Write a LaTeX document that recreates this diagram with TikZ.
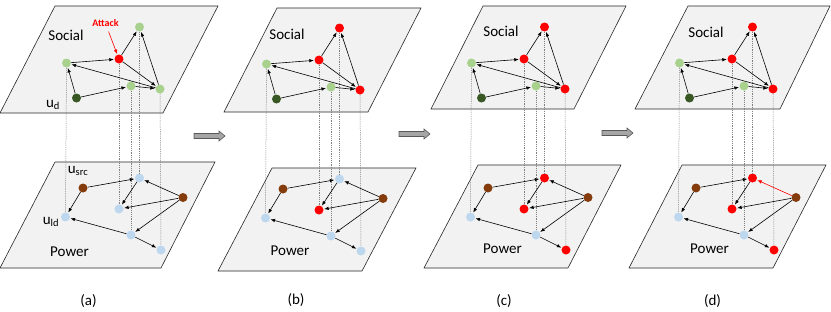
\documentclass[tikz,border=0pt]{standalone}
\usepackage{fontspec}
\setmainfont{Carlito}
\usepackage{tikz}
\usetikzlibrary{arrows.meta}
\definecolor{socgreen}{RGB}{169, 209, 142}
\definecolor{socdark}{RGB}{56, 87, 35}
\definecolor{powblue}{RGB}{189, 215, 238}
\definecolor{powbrown}{RGB}{132, 60, 12}
\definecolor{planegray}{RGB}{242, 242, 242}

\begin{document}
\begin{tikzpicture}[x=1pt, y=-1pt,
  plane/.style={draw=black!85, fill=planegray, line width=0.6pt},
  dot/.style={circle, minimum size=9pt, inner sep=0pt},
  edge/.style={-{Latex[length=4.5pt, width=3.5pt]}, line width=0.6pt, shorten >=0.5pt},
  link/.style={gray, dash pattern=on 1.2pt off 1pt, line width=0.5pt},
  lbl/.style={font=\fontsize{15}{18}\selectfont},
  flow/.style={draw=black!65, fill=black!35, line width=0.6pt}]
\useasboundingbox (0,0) rectangle (831,311);

% layers
\draw[plane] (55,6) -- (218,6) -- (163,113) -- (0,113) -- cycle;
\draw[plane] (55,162) -- (215,162) -- (161,268) -- (0,268) -- cycle;
\draw[plane] (277,8) -- (421,8) -- (368,112) -- (224,112) -- cycle;
\draw[plane] (272,168) -- (416,168) -- (362,271) -- (218,271) -- cycle;
\draw[plane] (483,6) -- (626,6) -- (574,109) -- (431,109) -- cycle;
\draw[plane] (478,165) -- (621,165) -- (568,268) -- (424,268) -- cycle;
\draw[plane] (688,6) -- (830,6) -- (780,109) -- (635,109) -- cycle;
\draw[plane] (682,165) -- (826,165) -- (773,268) -- (629,268) -- cycle;

% layer names and panel tags
\node[lbl] (soca) at (66,35.5) {Social};
\node[lbl] (powa) at (69.5,252) {Power};
\node[lbl] (taga) at (88.5,301) {(a)};
\node[lbl] (socb) at (287,34) {Social};
\node[lbl] (powb) at (290,251) {Power};
\node[lbl] (tagb) at (296,300.5) {(b)};
\node[lbl] (socc) at (501,31.5) {Social};
\node[lbl] (powc) at (502.5,249) {Power};
\node[lbl] (tagc) at (504,301.5) {(c)};
\node[lbl] (socd) at (706,32) {Social};
\node[lbl] (powd) at (709.5,249) {Power};
\node[lbl] (tagd) at (712.5,301.5) {(d)};

% the four stages
\foreach \px/\py/\tag/\sc/\pc/\pd/\ec in {0/0/a/socgreen/powblue/powblue/black,
    200/1/b/red/red/powblue/black, 405/0/c/red/red/red/black, 613/0/d/red/red/red/red}{
  \begin{scope}[xshift=\px pt, yshift=-\py pt]
    % social nodes
    \node[dot, fill=socgreen] (s1\tag) at (66.5,63) {};
    \node[dot, fill=red] (s2\tag) at (119,59) {};
    \node[dot, fill=\sc] (s3\tag) at (139.5,27) {};
    \node[dot, fill=socgreen] (s4\tag) at (131,86) {};
    \node[dot, fill=\sc] (s5\tag) at (160,89) {};
    \node[dot, fill=socdark] (s6\tag) at (76.5,98) {};
    % power nodes
    \node[dot, fill=powbrown] (p1\tag) at (83,188) {};
    \node[dot, fill=\pd] (p2\tag) at (139.5,178) {};
    \node[dot, fill=powbrown] (p3\tag) at (183,197.5) {};
    \node[dot, fill=\pc] (p4\tag) at (119,209) {};
    \node[dot, fill=powblue] (p5\tag) at (65.5,217) {};
    \node[dot, fill=powblue] (p6\tag) at (131,235) {};
    \node[dot, fill=\pd] (p7\tag) at (161,250) {};
    % couplings
    \draw[link] (s1\tag) -- (p5\tag);
    \draw[link] (s2\tag) -- (p4\tag);
    \draw[link] (s3\tag) -- (p2\tag);
    \draw[link] (s4\tag) -- (p6\tag);
    \draw[link] (s5\tag) -- (p7\tag);
    % social edges
    \draw[edge] (s1\tag) -- (s2\tag);
    \draw[edge] (s2\tag) -- (s3\tag);
    \draw[edge] (s2\tag) -- (s5\tag);
    \draw[edge] (s5\tag) -- (s3\tag);
    \draw[edge] (s5\tag) -- (s1\tag);
    \draw[edge] (s4\tag) -- (s5\tag);
    \draw[edge] (s6\tag) -- (s4\tag);
    \draw[edge] (s6\tag) -- (s1\tag);
    % power edges
    \draw[edge] (p1\tag) -- (p2\tag);
    \draw[edge] (p1\tag) -- (p5\tag);
    \draw[edge, \ec] (p3\tag) -- (p2\tag);
    \draw[edge] (p3\tag) -- (p4\tag);
    \draw[edge] (p2\tag) -- (p4\tag);
    \draw[edge] (p3\tag) -- (p6\tag);
    \draw[edge] (p6\tag) -- (p5\tag);
    \draw[edge] (p6\tag) -- (p7\tag);
  \end{scope}
}

% node names in (a)
\node[lbl] (ud) at (53,105) {u\textsubscript{d}};
\node[lbl] (usrc) at (78,171) {u\textsubscript{src}};
\node[lbl] (uld) at (51,222) {u\textsubscript{ld}};
\node[red, font=\fontsize{10}{12}\selectfont\bfseries] (attack) at (105.5,23.5) {Attack};
\draw[edge, red, shorten <=1pt] (attack) -- (s2a);

% stage arrows
\foreach \ax/\ay in {194/136, 399/134, 602/133}
  \draw[flow] (\ax,\ay-2.5) -- ++(25,0) -- ++(0,-2.5) -- ++(6,5) -- ++(-6,5)
    -- ++(0,-2.5) -- ++(-25,0) -- cycle;
\end{tikzpicture}
\end{document}
